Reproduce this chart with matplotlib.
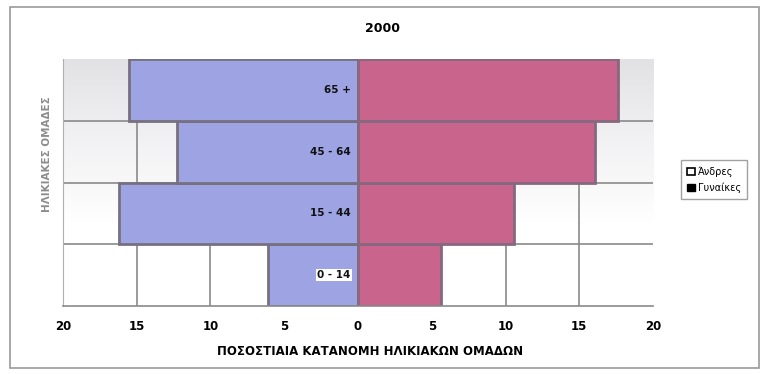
#!/usr/bin/env python3

import matplotlib
matplotlib.use("Agg")
import matplotlib.pyplot as plt
import numpy as np
from matplotlib.patches import Patch, Rectangle

# age groups, bottom to top
groups = ["0 - 14", "15 - 44", "45 - 64", "65 +"]
men = [6.1, 16.2, 12.3, 15.5]
women = [5.6, 10.6, 16.1, 17.6]
xticks = [-20, -15, -10, -5, 0, 5, 10, 15, 20]
xticklabels = ["20", "15", "10", "5", "0", "5", "10", "15", "20"]

fig = plt.figure(figsize=(7.66, 3.74), dpi=100)
ax = fig.add_axes([0.0822, 0.182, 0.7703, 0.660])

# outer frame of the chart
fig.patches.append(Rectangle((0.013, 0.015), 0.978, 0.965, transform=fig.transFigure,
                             fill=False, edgecolor="#9a9a9a", linewidth=1.2))

# greyish background fading towards the bottom (scan look)
grad = np.linspace(0.0, 1.0, 256).reshape(-1, 1)
ax.imshow(grad, extent=[-20, 20, -0.5, 3.5], aspect="auto", origin="lower",
          cmap=matplotlib.colors.LinearSegmentedColormap.from_list(
              "bg", ["#ffffff", "#ffffff", "#f2f1f3", "#e2e1e4"]), zorder=0)

y = np.arange(len(groups))
for xv in xticks[1:-1]:
    ax.axvline(xv, color="#8a8a8a", linewidth=1.2, zorder=1)
for yv in y[:-1] + 0.5:
    ax.axhline(yv, color="#8a8a8a", linewidth=1.2, zorder=1)

ax.barh(y, [-m for m in men], height=1.0, color="#9ea3e4", edgecolor="#77707f",
        linewidth=2.0, zorder=2)
ax.barh(y, women, height=1.0, color="#c9658c", edgecolor="#85697f",
        linewidth=2.0, zorder=2)

for yi, g in zip(y, groups):
    bbox = None
    if g == "0 - 14":
        bbox = dict(facecolor="white", edgecolor="none", pad=1.0)
    ax.text(-0.5, yi, g, ha="right", va="center", fontsize=7.5, fontweight="bold",
            color="#111111", bbox=bbox, zorder=3)

ax.set_xlim(-20, 20)
ax.set_ylim(-0.5, 3.5)
ax.set_xticks(xticks)
ax.set_xticklabels(xticklabels, fontsize=8.5, fontweight="bold")
ax.set_yticks([])
ax.tick_params(axis="x", length=0, pad=10)
for side in ["top", "right"]:
    ax.spines[side].set_visible(False)
ax.spines["left"].set_color("#b0b0b0")
ax.spines["bottom"].set_color("#8a8a8a")
ax.spines["bottom"].set_linewidth(1.2)

ax.set_xlabel("ΠΟΣΟΣΤΙΑΙΑ ΚΑΤΑΝΟΜΗ ΗΛΙΚΙΑΚΩΝ ΟΜΑΔΩΝ", fontsize=8.5,
              fontweight="bold", labelpad=9, x=0.52)
ax.set_ylabel("ΗΛΙΚΙΑΚΕΣ ΟΜΑΔΕΣ", fontsize=7.5, fontweight="bold", color="#8c8c8c",
              labelpad=8, y=0.615)
fig.text(0.5, 0.925, "2000", ha="center", va="center", fontsize=9, fontweight="bold")

handles = [Patch(facecolor="white", edgecolor="black", linewidth=1.2),
           Patch(facecolor="black", edgecolor="black")]
leg = fig.legend(handles, ["Άνδρες", "Γυναίκες"], loc="center",
                 bbox_to_anchor=(0.932, 0.52), fontsize=7, frameon=True,
                 fancybox=False, edgecolor="#8a8a8a", handlelength=0.8,
                 handleheight=0.8, handletextpad=0.3, borderpad=0.6,
                 labelspacing=0.6)
leg.get_frame().set_linewidth(1.0)

fig.savefig("out.png", dpi=100)
